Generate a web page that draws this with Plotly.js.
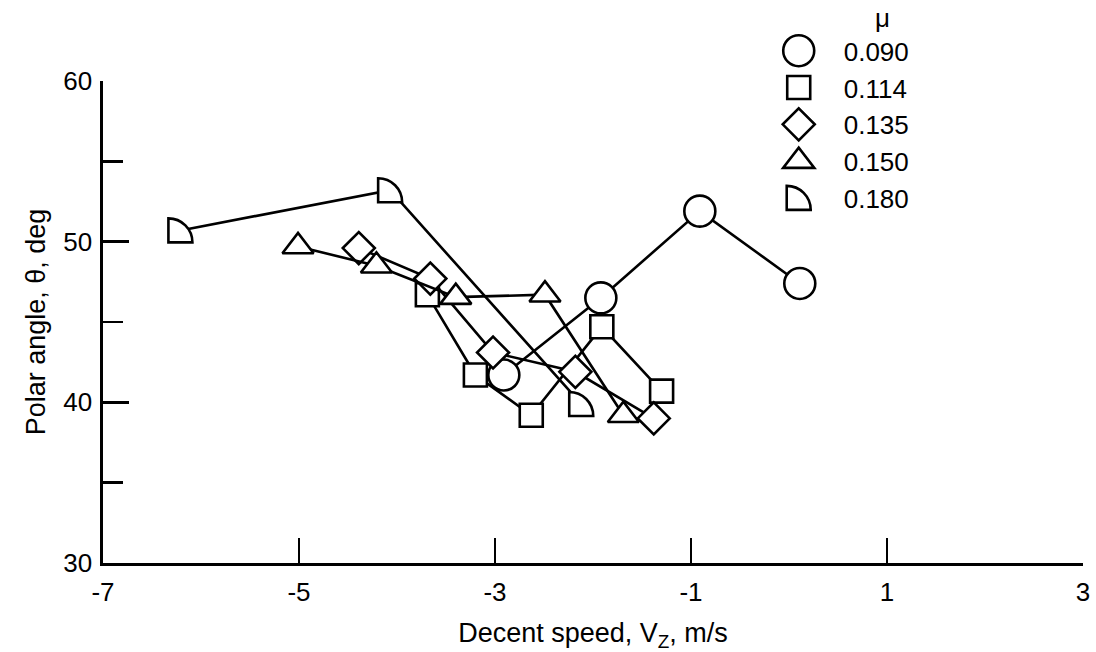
<!DOCTYPE html>
<html><head><meta charset="utf-8">
<script src="https://cdn.plot.ly/plotly-3.0.1.min.js"></script>
<style>html,body{margin:0;padding:0;background:#fff}#chart{width:1096px;height:652px}</style>
</head><body><div id="chart"></div>
<script>
// mu values (legend labels)
const muLabels = ['0.090', '0.114', '0.135', '0.150', '0.180'];
// descent speed Vz (m/s) and polar angle theta (deg) per mu
const vz090 = [-2.91, -1.92, -0.91, 0.11];
const th090 = [41.7, 46.5, 51.9, 47.4];
const vz114 = [-3.69, -3.20, -2.63, -1.91, -1.30];
const th114 = [46.7, 41.7, 39.2, 44.7, 40.7];
const vz135 = [-4.39, -3.66, -3.02, -2.18, -1.38];
const th135 = [49.6, 47.7, 43.1, 41.9, 39.0];
const vz150 = [-5.01, -4.21, -3.40, -2.49, -1.69];
const th150 = [49.7, 48.5, 46.55, 46.7, 39.2];
const vz180 = [-6.21, -4.07, -2.12];
const th180 = [50.7, 53.2, 39.9];
const xTickVals = [-7, -5, -3, -1, 1, 3];
const xTickText = ['-7', '-5', '-3', '-1', '1', '3'];
const yTickVals = [30, 40, 50, 60];

const FONT = 'Liberation Sans, Arial, Helvetica, sans-serif';
const symbols = ['circle', 'square', 'diamond', 'triangle-up', 'triangle-sw'];
const sizes = [31, 23, 24.6, 27, 24];
const xs = [vz090, vz114, vz135, vz150, vz180];
const ys = [th090, th114, th135, th150, th180];

const data = xs.map((x, i) => ({
  type: 'scatter', mode: 'lines+markers', x: x, y: ys[i], name: muLabels[i],
  line: {color: '#000', width: 2.6},
  marker: {symbol: symbols[i], size: sizes[i], color: '#fff', line: {color: '#000', width: 2.6}},
  cliponaxis: false
}));

const layout = {
  width: 1096, height: 652, autosize: false,
  margin: {l: 103, r: 13, t: 81, b: 89},
  paper_bgcolor: '#fff', plot_bgcolor: '#fff',
  font: {family: FONT, size: 26, color: '#000'},
  showlegend: true,
  legend: {x: 0.664, xanchor: 'left', y: 1.1114, yanchor: 'top', itemwidth: 80,
           font: {family: FONT, size: 26, color: '#000'}, bgcolor: 'rgba(0,0,0,0)', borderwidth: 0},
  xaxis: {
    range: [-7, 3], tickmode: 'array', tickvals: xTickVals, ticktext: xTickText,
    ticks: 'inside', ticklen: 25, tickwidth: 2.5, tickcolor: '#000',
    showline: true, linewidth: 2.6, linecolor: '#000', mirror: false,
    showgrid: false, zeroline: false, ticklabelstandoff: 4,
    tickfont: {family: FONT, size: 26, color: '#000'},
    title: {text: 'Decent speed, V<sub>Z</sub>, m/s', font: {family: FONT, size: 27, color: '#000'}, standoff: 22}
  },
  yaxis: {
    range: [30, 60], tickmode: 'array', tickvals: yTickVals,
    ticks: 'inside', ticklen: 26, tickwidth: 2.5, tickcolor: '#000',
    minor: {dtick: 5, tick0: 30, ticks: 'inside', ticklen: 20, tickwidth: 2.5, tickcolor: '#000', showgrid: false},
    showline: true, linewidth: 2.6, linecolor: '#000', mirror: false,
    showgrid: false, zeroline: false, ticklabelstandoff: 3,
    tickfont: {family: FONT, size: 26, color: '#000'},
    title: {text: 'Polar angle, θ, deg', font: {family: FONT, size: 27, color: '#000'}, standoff: 10}
  },
  annotations: [{
    text: 'μ', xref: 'paper', yref: 'paper', x: 0.795, y: 1.1307, xanchor: 'center', yanchor: 'middle',
    showarrow: false, font: {family: FONT, size: 26, color: '#000'}
  }]
};

Plotly.newPlot('chart', data, layout, {displayModeBar: false, staticPlot: true}).then(gd => {
  const qpath = 'M-12,12V-12A24,24 0 0 1 12,12Z';
  const traces = gd.querySelectorAll('.scatterlayer .trace');
  if (traces[4]) traces[4].querySelectorAll('.points path').forEach(p => p.setAttribute('d', qpath));
  const legTraces = gd.querySelectorAll('.legend .traces');
  legTraces.forEach((g, i) => {
    g.querySelectorAll('.legendlines path').forEach(l => l.style.display = 'none');
    const p = g.querySelector('.legendpoints path');
    if (!p) return;
    if (i === 4) {
      p.setAttribute('d', qpath);
    } else {
      const t = p.getAttribute('transform') || '';
      p.setAttribute('transform', t + ' scale(' + (sizes[i] / 16) + ')');
      p.style.vectorEffect = 'non-scaling-stroke';
    }
  });
});
</script>
</body></html>
